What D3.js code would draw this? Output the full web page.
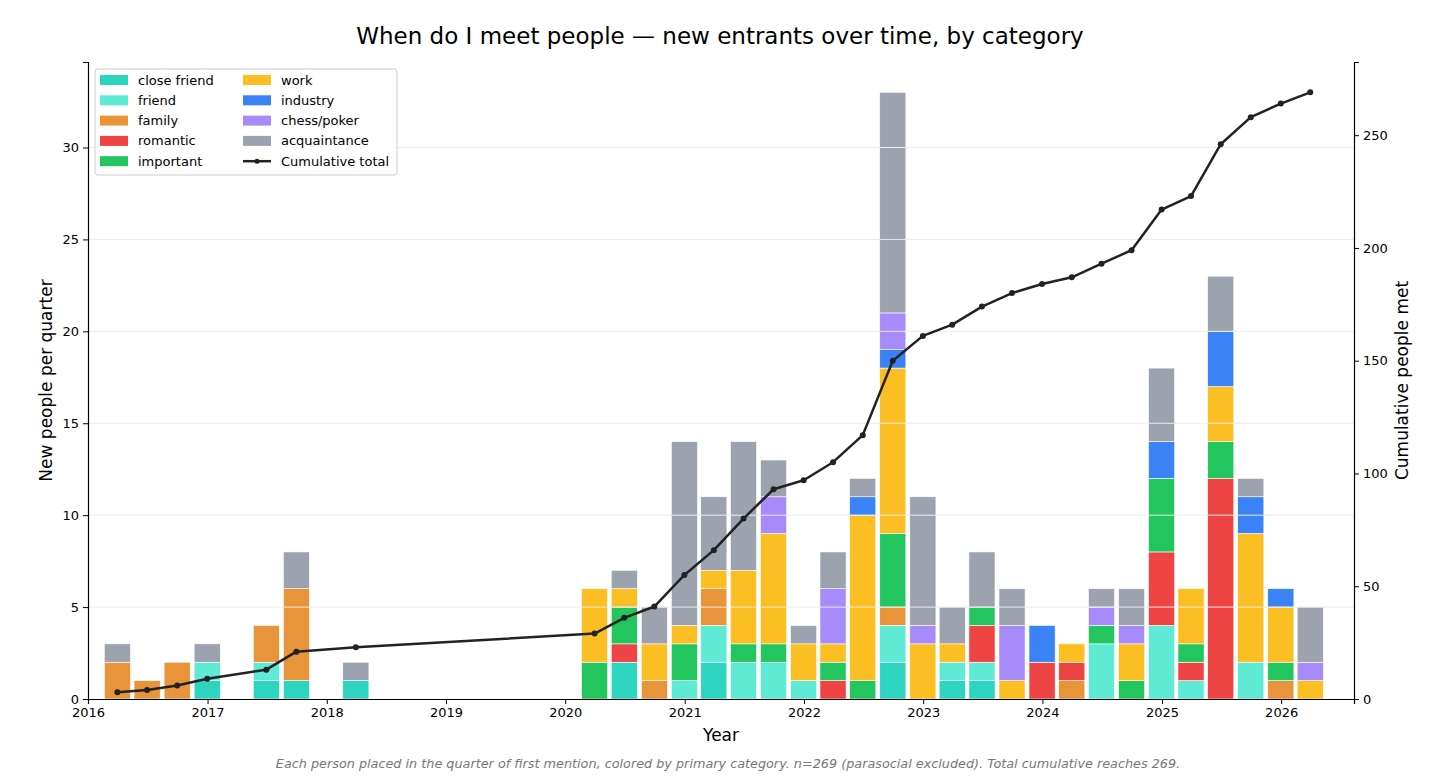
<!DOCTYPE html>
<meta charset="utf-8">
<script src="https://d3js.org/d3.v7.min.js"></script>
<style>
  body { margin: 0; background: #fff; }
  text { font-family: "DejaVu Sans", sans-serif; }
</style>
<div id="vis"></div>
<script>

// quarters with at least one new person (bar sits at the quarter end)
var quarters = ["2016Q1","2016Q2","2016Q3","2016Q4","2017Q2","2017Q3","2018Q1",
  "2020Q1","2020Q2","2020Q3","2020Q4","2021Q1","2021Q2","2021Q3","2021Q4",
  "2022Q1","2022Q2","2022Q3","2022Q4","2023Q1","2023Q2","2023Q3","2023Q4",
  "2024Q1","2024Q2","2024Q3","2024Q4","2025Q1","2025Q2","2025Q3","2025Q4","2026Q1"];

var categories = ["close friend","friend","family","romantic","important",
  "work","industry","chess/poker","acquaintance"];
var colors = ["#2dd4bf","#5eead4","#e8943a","#ef4444","#22c55e",
  "#fbbf24","#3b82f6","#a78bfa","#9ca3af"];

// counts per quarter, one array per category
var closeFriend  = [0,0,0,1,1,1,1, 0,2,0,0, 2,0,0,0, 0,0,2,0, 1,1,0,0, 0,0,0,0, 0,0,0,0, 0];
var friend       = [0,0,0,1,1,0,0, 0,0,0,1, 2,2,2,1, 0,0,2,0, 1,1,0,0, 0,3,0,4, 1,0,2,0, 0];
var family       = [2,1,2,0,2,5,0, 0,0,1,0, 2,0,0,0, 0,0,1,0, 0,0,0,0, 1,0,0,0, 0,0,0,1, 0];
var romantic     = [0,0,0,0,0,0,0, 0,1,0,0, 0,0,0,0, 1,0,0,0, 0,2,0,2, 1,0,0,4, 1,12,0,0, 0];
var important    = [0,0,0,0,0,0,0, 2,2,0,2, 0,1,1,0, 1,1,4,0, 0,1,0,0, 0,1,1,4, 1,2,0,1, 0];
var work         = [0,0,0,0,0,0,0, 4,1,2,1, 1,4,6,2, 1,9,9,3, 1,0,1,0, 1,0,2,0, 3,3,7,3, 1];
var industry     = [0,0,0,0,0,0,0, 0,0,0,0, 0,0,0,0, 0,1,1,0, 0,0,0,2, 0,0,0,2, 0,3,2,1, 0];
var chessPoker   = [0,0,0,0,0,0,0, 0,0,0,0, 0,0,2,0, 3,0,2,1, 0,0,3,0, 0,1,1,0, 0,0,0,0, 1];
var acquaintance = [1,0,0,1,0,2,1, 0,1,2,10, 4,7,2,1, 2,1,12,7, 2,3,2,0, 0,1,2,4, 0,3,1,0, 3];

var series = [closeFriend, friend, family, romantic, important, work, industry, chessPoker, acquaintance];

var leftTicks = [0,5,10,15,20,25,30];
var rightTicks = [0,50,100,150,200,250];

// quarter label -> quarter end date
function quarterEnd(q) {
  var yr = +q.slice(0,4), n = +q.slice(5);
  return new Date(yr, n * 3, 0);
}

var rows = quarters.map(function(q, i) {
  var r = {date: quarterEnd(q)};
  categories.forEach(function(c, j) { r[c] = series[j][i]; });
  r.total = d3.sum(series, function(s) { return s[i]; });
  return r;
});
var running = 0;
rows.forEach(function(r) { running += r.total; r.cum = running; });

var W = 1456, H = 777;
var margin = {top: 62, right: 102, bottom: 78, left: 88},
    width = W - margin.left - margin.right,
    height = H - margin.top - margin.bottom;

var svgRoot = d3.select("#vis").append("svg")
  .attr("width", W).attr("height", H);
var svg = svgRoot.append("g")
  .attr("transform", "translate(" + margin.left + "," + margin.top + ")");

var x = d3.scaleTime()
  .domain([new Date(2016, 0, 1), new Date(2026, 7, 12)])
  .range([0, width]);
var y = d3.scaleLinear().domain([0, 33 * 1.05]).range([height, 0]);
var y2 = d3.scaleLinear().domain([0, 269 * 1.05]).range([height, 0]);

var barDays = 80;
function barX(d) { return x(d3.timeDay.offset(d.date, -barDays / 2)); }
var barW = x(new Date(2020, 0, 1 + barDays)) - x(new Date(2020, 0, 1));

// stacked bars
var stack = d3.stack().keys(categories)(rows);
svg.append("g").selectAll("g")
  .data(stack)
  .enter().append("g")
    .attr("fill", function(d, i) { return colors[i]; })
  .selectAll("rect")
  .data(function(d) { return d.filter(function(s) { return s[1] > s[0]; }); })
  .enter().append("rect")
    .attr("x", function(d) { return barX(d.data); })
    .attr("width", barW)
    .attr("y", function(d) { return y(d[1]); })
    .attr("height", function(d) { return y(d[0]) - y(d[1]); })
    .attr("stroke", "#fff")
    .attr("stroke-width", 0.6);

// grid (drawn over the bars)
svg.append("g").selectAll("line")
  .data(leftTicks.slice(1))
  .enter().append("line")
    .attr("x1", 0).attr("x2", width)
    .attr("y1", function(d) { return y(d); })
    .attr("y2", function(d) { return y(d); })
    .attr("stroke", "#ebebeb")
    .attr("stroke-width", 1);

// cumulative line
var line = d3.line()
  .x(function(d) { return x(d.date); })
  .y(function(d) { return y2(d.cum); });
svg.append("path")
  .datum(rows)
  .attr("fill", "none")
  .attr("stroke", "#222")
  .attr("stroke-width", 2.5)
  .attr("stroke-linejoin", "round")
  .attr("d", line);
svg.append("g").selectAll("circle")
  .data(rows)
  .enter().append("circle")
    .attr("cx", function(d) { return x(d.date); })
    .attr("cy", function(d) { return y2(d.cum); })
    .attr("r", 3)
    .attr("fill", "#222");

// axes
var xAxis = svg.append("g")
  .attr("transform", "translate(0," + height + ")")
  .call(d3.axisBottom(x).ticks(d3.timeYear.every(1)).tickFormat(d3.timeFormat("%Y")).tickSizeOuter(0).tickSize(5).tickPadding(4));
var yAxis = svg.append("g")
  .call(d3.axisLeft(y).tickValues(leftTicks).tickSizeOuter(0).tickSize(5).tickPadding(4));
var y2Axis = svg.append("g")
  .attr("transform", "translate(" + width + ",0)")
  .call(d3.axisRight(y2).tickValues(rightTicks).tickSizeOuter(0).tickSize(5).tickPadding(4));
[xAxis, yAxis, y2Axis].forEach(function(a) {
  a.selectAll("text").style("font-size", "13px").attr("fill", "#000");
  a.selectAll("line").attr("stroke", "#000");
  a.select(".domain").attr("stroke", "#000").attr("stroke-width", 1.2);
});

// axis labels
svg.append("text")
  .attr("x", width / 2).attr("y", height + 42)
  .attr("text-anchor", "middle").style("font-size", "17px")
  .text("Year");
svg.append("text")
  .attr("transform", "rotate(-90)")
  .attr("x", -height / 2).attr("y", -36)
  .attr("text-anchor", "middle").style("font-size", "17px")
  .text("New people per quarter");
svg.append("text")
  .attr("transform", "rotate(-90)")
  .attr("x", -height / 2).attr("y", width + 54)
  .attr("text-anchor", "middle").style("font-size", "17px")
  .text("Cumulative people met");

// title and footnote
svgRoot.append("text")
  .attr("x", 720).attr("y", 44)
  .attr("text-anchor", "middle").style("font-size", "23px")
  .text("When do I meet people \u2014 new entrants over time, by category");
svgRoot.append("text")
  .attr("x", 728).attr("y", 768)
  .attr("text-anchor", "middle").style("font-size", "12.8px")
  .style("font-style", "italic").attr("fill", "#777")
  .text("Each person placed in the quarter of first mention, colored by primary category. n=269 (parasocial excluded). Total cumulative reaches 269.");

// legend
var legend = svg.append("g").attr("transform", "translate(7,7)");
legend.append("rect")
  .attr("width", 302).attr("height", 106)
  .attr("rx", 3)
  .attr("fill", "#fff").attr("fill-opacity", 0.85)
  .attr("stroke", "#ccc");
var legendItems = categories.map(function(c, i) { return {label: c, color: colors[i]}; });
legendItems.push({label: "Cumulative total", line: true});
legendItems.forEach(function(d, i) {
  var col = Math.floor(i / 5), row = i % 5;
  var g = legend.append("g")
    .attr("transform", "translate(" + (5 + col * 143) + "," + (11 + row * 20.3) + ")");
  if (d.line) {
    g.append("line").attr("x1", 0).attr("x2", 28).attr("y1", 0).attr("y2", 0)
      .attr("stroke", "#222").attr("stroke-width", 2.5);
    g.append("circle").attr("cx", 14).attr("cy", 0).attr("r", 2.5).attr("fill", "#222");
  } else {
    g.append("rect").attr("x", 0).attr("y", -5).attr("width", 28).attr("height", 10)
      .attr("fill", d.color);
  }
  g.append("text").attr("x", 38).attr("y", 0).attr("dy", "0.35em")
    .style("font-size", "13px").text(d.label);
});

</script>
